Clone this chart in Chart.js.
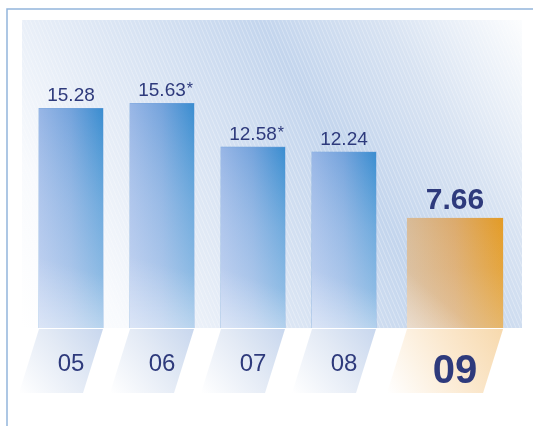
<!DOCTYPE html>
<html>
<head>
<meta charset="utf-8">
<script src="https://cdn.jsdelivr.net/npm/chart.js@4.4.0/dist/chart.umd.min.js"></script>
<style>
  html, body { margin: 0; padding: 0; background: #fff; }
</style>
</head>
<body>
<canvas id="chart" width="533" height="426"></canvas>
<script>
// data
const years = ['05', '06', '07', '08', '09'];
const pastValues = [15.28, 15.63, 12.58, 12.24, null];
const currentValues = [null, null, null, null, 7.66];
const restated = [false, true, true, false, false]; // values marked with *

const NAVY = '#2e3a7c';
const FONT = '"Liberation Sans", Arial, sans-serif';

function drawPanel(chart) {
    const ctx = chart.ctx;
    const area = chart.chartArea;
    ctx.save();
    // thin frame on top and left
    ctx.strokeStyle = '#93b5dc';
    ctx.lineWidth = 1.5;
    ctx.beginPath();
    ctx.moveTo(533, 9);
    ctx.lineTo(7, 9);
    ctx.lineTo(7, 426);
    ctx.stroke();

    // shaded panel behind the bars
    const x0 = 22, x1 = 522, y0 = area.top, y1 = area.bottom;
    const g = ctx.createLinearGradient(x0, y1, x1, y0);
    g.addColorStop(0, '#ffffff');
    g.addColorStop(0.15, '#f8fafd');
    g.addColorStop(0.3, '#e6edf7');
    g.addColorStop(0.62, '#c3d5ed');
    g.addColorStop(0.8, '#d8e3f2');
    g.addColorStop(1, '#fcfdfe');
    ctx.fillStyle = g;
    ctx.fillRect(x0, y0, x1 - x0, y1 - y0);

    // faint diagonal hatching
    ctx.beginPath();
    ctx.rect(x0, y0, x1 - x0, y1 - y0);
    ctx.clip();
    ctx.strokeStyle = 'rgba(255,255,255,0.3)';
    ctx.lineWidth = 1;
    for (let x = x0 - 400; x < x1; x += 4) {
        ctx.beginPath();
        ctx.moveTo(x, y0);
        ctx.lineTo(x + 130, y1);
        ctx.stroke();
    }
    ctx.restore();
}

const decorPlugin = {
    id: 'decor',
    beforeDatasetsDraw(chart) {
        drawPanel(chart);
    },
    afterDatasetsDraw(chart) {
        const ctx = chart.ctx;
        const area = chart.chartArea;
        chart.data.datasets.forEach((ds, di) => {
            chart.getDatasetMeta(di).data.forEach((bar, i) => {
                if (ds.data[i] == null) return;
                const left = bar.x - bar.width / 2, right = bar.x + bar.width / 2;
                const isCurrent = di === 1;
                ctx.save();

                // repaint the bar with a left-to-right gradient
                const g = ctx.createLinearGradient(left, 0, right, 0);
                if (isCurrent) {
                    g.addColorStop(0, '#d8bb98');
                    g.addColorStop(0.5, '#dcaa6c');
                    g.addColorStop(1, '#e39b25');
                } else {
                    g.addColorStop(0, '#98b6e6');
                    g.addColorStop(0.5, '#74a3dc');
                    g.addColorStop(1, '#3a8dd0');
                }
                ctx.fillStyle = g;
                ctx.fillRect(left, bar.y, bar.width, bar.base - bar.y);

                // paler towards the bottom
                const fade = ctx.createLinearGradient(0, bar.y, 0, bar.base);
                fade.addColorStop(0, 'rgba(255,255,255,0)');
                fade.addColorStop(0.45, isCurrent ? 'rgba(240,236,236,0.12)' : 'rgba(236,240,252,0.3)');
                fade.addColorStop(1, isCurrent ? 'rgba(236,232,234,0.35)' : 'rgba(240,242,252,0.55)');
                ctx.fillStyle = fade;
                ctx.fillRect(left, bar.y, bar.width, bar.base - bar.y);

                // and a little whiter in the lower-left corner
                const corner = ctx.createLinearGradient(right, bar.y, left, bar.base);
                corner.addColorStop(0, 'rgba(255,255,255,0)');
                corner.addColorStop(0.7, 'rgba(255,255,255,0)');
                corner.addColorStop(1, 'rgba(255,255,255,0.35)');
                ctx.fillStyle = corner;
                ctx.fillRect(left, bar.y, bar.width, bar.base - bar.y);

                // slanted label tile under the bar
                const top = area.bottom + 1, bottom = area.bottom + 65, slant = 20;
                const tg = ctx.createLinearGradient(right, top, left - slant, bottom);
                if (isCurrent) {
                    tg.addColorStop(0, '#f7d9ad');
                    tg.addColorStop(0.45, '#fbe9d0');
                    tg.addColorStop(1, '#ffffff');
                } else {
                    tg.addColorStop(0, '#c8d7ee');
                    tg.addColorStop(0.45, '#e3eaf5');
                    tg.addColorStop(1, '#ffffff');
                }
                ctx.fillStyle = tg;
                ctx.beginPath();
                ctx.moveTo(left, top);
                ctx.lineTo(right, top);
                ctx.lineTo(right - slant, bottom);
                ctx.lineTo(left - slant, bottom);
                ctx.closePath();
                ctx.fill();

                // year label
                ctx.fillStyle = NAVY;
                ctx.textAlign = 'center';
                ctx.textBaseline = 'alphabetic';
                if (isCurrent) {
                    ctx.font = 'bold 40px ' + FONT;
                    ctx.fillText(years[i], bar.x, 383);
                } else {
                    ctx.font = '24px ' + FONT;
                    ctx.fillText(years[i], bar.x, 371);
                }

                // value label
                const text = ds.data[i].toFixed(2);
                if (isCurrent) {
                    ctx.font = 'bold 30px ' + FONT;
                    ctx.fillText(text, bar.x, bar.y - 9);
                } else {
                    ctx.font = '19px ' + FONT;
                    ctx.fillText(text, bar.x, bar.y - 7);
                    if (restated[i]) {
                        const w = ctx.measureText(text).width;
                        ctx.textAlign = 'left';
                        ctx.font = '16px ' + FONT;
                        ctx.fillText('*', bar.x + w / 2 + 1, bar.y - 9);
                    }
                }
                ctx.restore();
            });
        });
    }
};

new Chart(document.getElementById('chart'), {
    type: 'bar',
    data: {
        labels: years,
        datasets: [{
            data: pastValues,
            backgroundColor: '#74a3dc',
            barThickness: 64,
            skipNull: true
        }, {
            // not skipping nulls puts this bar in the right half of its slot,
            // which gives the wider gap before the current year
            data: currentValues,
            backgroundColor: '#dcaa6c',
            categoryPercentage: 0.88,
            barPercentage: 2.4,
            skipNull: false,
            clip: false
        }]
    },
    options: {
        responsive: false,
        animation: false,
        layout: { padding: { left: 25.5, right: 52.5, top: 20, bottom: 98 } },
        plugins: { legend: { display: false }, tooltip: { enabled: false } },
        scales: {
            x: { display: false },
            y: { display: false, min: 0, max: 21.43 }
        }
    },
    plugins: [decorPlugin]
});
</script>
</body>
</html>
